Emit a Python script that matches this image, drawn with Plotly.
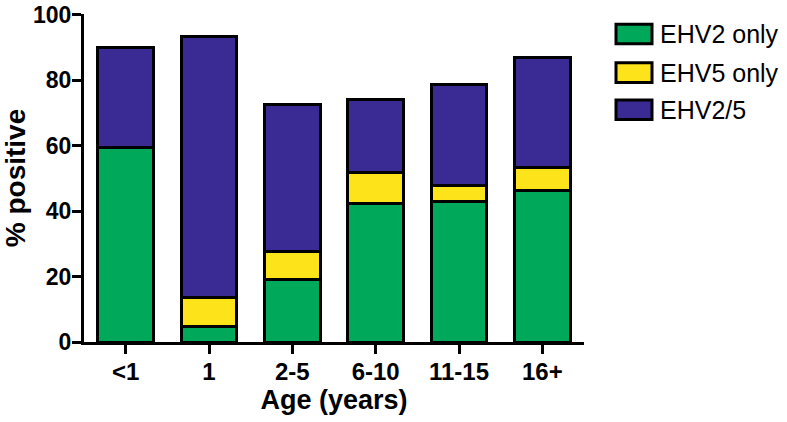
import plotly.graph_objects as go

categories = ["<1", "1", "2-5", "6-10", "11-15", "16+"]
ehv2_only = [59.5, 4.7, 19.0, 42.3, 42.9, 46.4]
ehv5_only = [0.0, 9.0, 8.8, 9.5, 5.0, 6.8]
ehv2_5 = [30.4, 79.5, 44.8, 22.3, 30.7, 33.8]
y_ticks = [0, 20, 40, 60, 80, 100]
series_names = ["EHV2 only", "EHV5 only", "EHV2/5"]
colors = ["#00a85a", "#fde31a", "#3a2a94"]

FONT = "Liberation Sans, Arial"

fig = go.Figure()
for name, vals, col in zip(series_names, [ehv2_only, ehv5_only, ehv2_5], colors):
    fig.add_trace(go.Bar(
        x=categories, y=vals, name=name,
        marker=dict(color=col, line=dict(color="black", width=3)),
        showlegend=False,
    ))

# custom legend (paper coordinates)
row_y = [0.939, 0.821, 0.708]
h = 0.030
for name, col, yc in zip(series_names, colors, row_y):
    fig.add_shape(type="rect", xref="paper", yref="paper",
                  x0=1.064, x1=1.136, y0=yc - h, y1=yc + h,
                  fillcolor=col, line=dict(color="black", width=3))
    fig.add_annotation(xref="paper", yref="paper", x=1.148, y=yc,
                       text=name, showarrow=False, xanchor="left", yanchor="middle",
                       font=dict(family=FONT, size=25, color="black"))

fig.update_layout(
    barmode="stack",
    bargap=0.33,
    width=787, height=422,
    margin=dict(l=84, r=203, t=14, b=80),
    plot_bgcolor="white", paper_bgcolor="white",
    font=dict(family=FONT, color="black"),
)
fig.update_xaxes(
    range=[-0.5, 5.5],
    automargin=False,
    showline=True, linecolor="black", linewidth=3,
    ticks="outside", ticklen=9, tickwidth=3, tickcolor="black",
    ticklabelstandoff=-3,
    tickfont=dict(size=24, family=FONT, color="black", weight="bold"),
    title=dict(text="<b>Age (years)</b>", font=dict(size=27), standoff=6),
    showgrid=False, zeroline=False,
)
fig.update_yaxes(
    range=[0, 100.2],
    automargin=False,
    tickvals=y_ticks,
    ticklabeloverflow="allow",
    showline=True, linecolor="black", linewidth=3,
    ticks="outside", ticklen=9, tickwidth=3, tickcolor="black",
    ticklabelstandoff=-4,
    tickfont=dict(size=23, family=FONT, color="black", weight="bold"),
    title=dict(text="<b>% positive</b>", font=dict(size=28), standoff=2),
    showgrid=False, zeroline=False,
)

fig.write_html("out.html", config={"displayModeBar": False},
               post_script="document.body.style.margin='0';")
